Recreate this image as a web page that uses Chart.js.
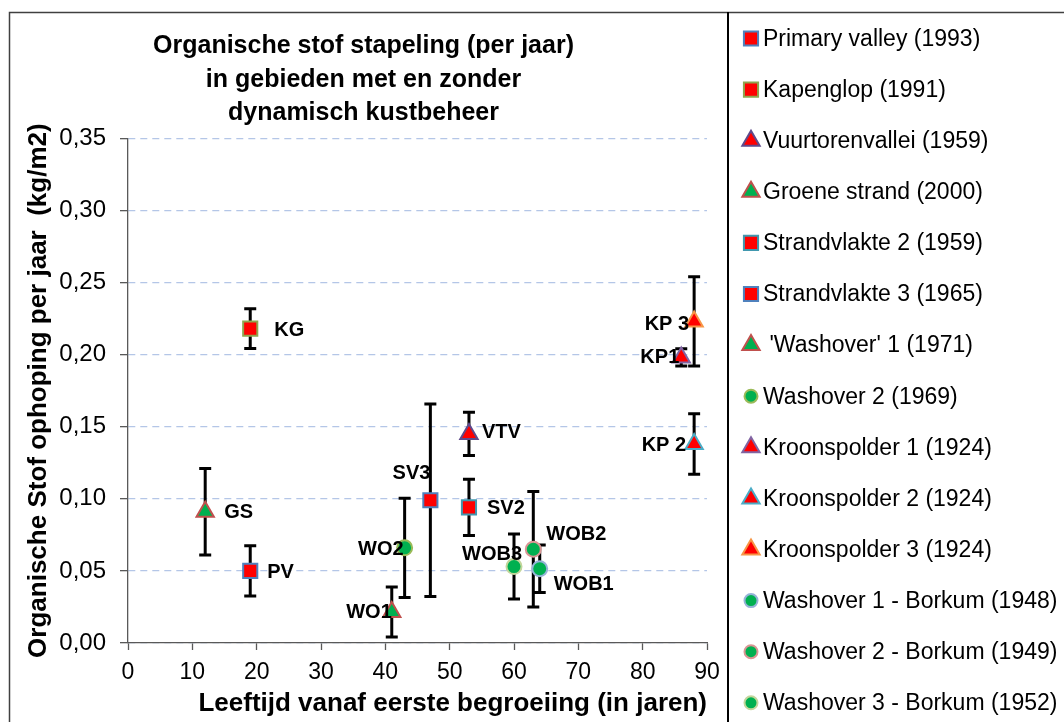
<!DOCTYPE html>
<html><head><meta charset="UTF-8">
<title>Organische stof stapeling</title>
<style>
* { margin: 0; padding: 0; box-sizing: border-box; }
body { background: #fff; width: 1064px; height: 722px; overflow: hidden; }
canvas { display: block; }
</style>
<script src="https://cdn.jsdelivr.net/npm/chart.js"></script>
</head>
<body>
<canvas id="stofChart" width="1064" height="722"></canvas>
<script>
// data
const seriesNames = [
  'Primary valley (1993)', 'Kapenglop (1991)', 'Vuurtorenvallei (1959)', 'Groene strand (2000)',
  'Strandvlakte 2 (1959)', 'Strandvlakte 3 (1965)', " 'Washover' 1 (1971)", 'Washover 2 (1969)',
  'Kroonspolder 1 (1924)', 'Kroonspolder 2 (1924)', 'Kroonspolder 3 (1924)',
  'Washover 1 - Borkum (1948)', 'Washover 2 - Borkum (1949)', 'Washover 3 - Borkum (1952)'
];
const pointLabels = ['PV', 'KG', 'VTV', 'GS', 'SV2', 'SV3', 'WO1', 'WO2', 'KP1', 'KP 2', 'KP 3', 'WOB1', 'WOB2', 'WOB3'];
const ages       = [19, 19, 53, 12, 53, 47, 41, 43, 86, 88, 88, 64, 63, 60];
const stofValues = [0.050, 0.218, 0.145, 0.091, 0.094, 0.099, 0.0215, 0.066, 0.198, 0.138, 0.223, 0.0515, 0.065, 0.053];
const stofErrors = [0.0174, 0.0138, 0.015, 0.030, 0.0195, 0.0667, 0.0174, 0.0344, 0.006, 0.021, 0.031, 0.0164, 0.040, 0.0225];
const xTicks = [0, 10, 20, 30, 40, 50, 60, 70, 80, 90];
const yTicks = [0, 0.05, 0.10, 0.15, 0.20, 0.25, 0.30, 0.35];

const FONT = '"Liberation Sans", Arial, sans-serif';
const RED = '#ff0000', GREEN = '#00b050';

// marker look per series
const markerStyles = [
  { shape: 'rect',     fill: RED,   edge: '#4f81bd' },
  { shape: 'rect',     fill: RED,   edge: '#8ea64e' },
  { shape: 'triangle', fill: RED,   edge: '#5f4a8b' },
  { shape: 'triangle', fill: GREEN, edge: '#c0504d' },
  { shape: 'rect',     fill: RED,   edge: '#4198af' },
  { shape: 'rect',     fill: RED,   edge: '#4f81bd' },
  { shape: 'triangle', fill: GREEN, edge: '#c0504d' },
  { shape: 'circle',   fill: GREEN, edge: '#9bbb59' },
  { shape: 'triangle', fill: RED,   edge: '#8064a2' },
  { shape: 'triangle', fill: RED,   edge: '#4bacc6' },
  { shape: 'triangle', fill: RED,   edge: '#f79646' },
  { shape: 'circle',   fill: GREEN, edge: '#95b3d7' },
  { shape: 'circle',   fill: GREEN, edge: '#d99694' },
  { shape: 'circle',   fill: GREEN, edge: '#c3d69b' }
];
const markerRadius = { rect: 10, triangle: 10, circle: 7.5 };

// where each point label sits relative to its point
const labelPlacement = [
  { dx: 17, dy: 2, align: 'left' },
  { dx: 24, dy: 2, align: 'left' },
  { dx: 13, dy: -1, align: 'left' },
  { dx: 19, dy: 1, align: 'left' },
  { dx: 18, dy: 1, align: 'left' },
  { dx: 0, dy: -27, align: 'right' },
  { dx: 0, dy: 0, align: 'right' },
  { dx: -1, dy: 2, align: 'right' },
  { dx: -2, dy: 0, align: 'right' },
  { dx: -8, dy: 2, align: 'right' },
  { dx: -5, dy: 3, align: 'right' },
  { dx: 14, dy: 16, align: 'left' },
  { dx: 13, dy: -15, align: 'left' },
  { dx: 8, dy: -12, align: 'right' }
];

function drawMarker(ctx, shape, x, y, r, fill, edge) {
  ctx.beginPath();
  if (shape === 'circle') {
    ctx.arc(x, y, r, 0, Math.PI * 2);
  } else if (shape === 'rect') {
    const s = Math.SQRT1_2 * r;
    ctx.rect(x - s, y - s, 2 * s, 2 * s);
  } else {
    ctx.moveTo(x, y - r);
    ctx.lineTo(x + r * 0.866, y + r * 0.5);
    ctx.lineTo(x - r * 0.866, y + r * 0.5);
    ctx.closePath();
  }
  ctx.fillStyle = fill;
  ctx.fill();
  ctx.lineWidth = 2;
  ctx.strokeStyle = edge;
  ctx.stroke();
}

const errorBars = {
  id: 'errorBars',
  beforeDatasetsDraw(chart) {
    const { ctx, scales: { x, y } } = chart;
    ctx.save();
    ctx.strokeStyle = '#000';
    ctx.lineWidth = 3;
    ages.forEach((age, i) => {
      const px = x.getPixelForValue(age);
      const top = y.getPixelForValue(stofValues[i] + stofErrors[i]);
      const bot = y.getPixelForValue(stofValues[i] - stofErrors[i]);
      ctx.beginPath();
      ctx.moveTo(px, top); ctx.lineTo(px, bot);
      ctx.moveTo(px - 6, top); ctx.lineTo(px + 6, top);
      ctx.moveTo(px - 6, bot); ctx.lineTo(px + 6, bot);
      ctx.stroke();
    });
    ctx.restore();
  }
};

const pointText = {
  id: 'pointText',
  afterDatasetsDraw(chart) {
    const { ctx, scales: { x, y } } = chart;
    ctx.save();
    ctx.font = 'bold 20px ' + FONT;
    ctx.fillStyle = '#000';
    ctx.textBaseline = 'middle';
    pointLabels.forEach((txt, i) => {
      const p = labelPlacement[i];
      ctx.textAlign = p.align;
      ctx.fillText(txt, x.getPixelForValue(ages[i]) + p.dx, y.getPixelForValue(stofValues[i]) + p.dy);
    });
    ctx.restore();
  }
};

const sideLegend = {
  id: 'sideLegend',
  afterDraw(chart) {
    const ctx = chart.ctx;
    ctx.save();
    ctx.strokeStyle = '#404040';
    ctx.lineWidth = 1.5;
    ctx.strokeRect(9.5, 12.5, 1070, 720);
    ctx.strokeStyle = '#000';
    ctx.lineWidth = 2;
    ctx.beginPath();
    ctx.moveTo(728, 12); ctx.lineTo(728, 722);
    ctx.stroke();
    ctx.font = '23px ' + FONT;
    ctx.textBaseline = 'middle';
    ctx.textAlign = 'left';
    seriesNames.forEach((name, i) => {
      const cy = 38.5 + i * 51.1;
      const m = markerStyles[i];
      drawMarker(ctx, m.shape, 751, cy, m.shape === 'circle' ? 6.5 : 10, m.fill, m.edge);
      ctx.fillStyle = '#000';
      ctx.fillText(name, 763, cy + 1);
    });
    ctx.restore();
  }
};

new Chart(document.getElementById('stofChart'), {
  type: 'scatter',
  data: {
    datasets: seriesNames.map((name, i) => ({
      label: name,
      data: [{ x: ages[i], y: stofValues[i] }],
      pointStyle: markerStyles[i].shape,
      backgroundColor: markerStyles[i].fill,
      borderColor: markerStyles[i].edge,
      borderWidth: 2,
      pointRadius: markerRadius[markerStyles[i].shape],
      pointHoverRadius: markerRadius[markerStyles[i].shape]
    }))
  },
  options: {
    responsive: false,
    animation: false,
    events: [],
    layout: { padding: { left: 20, right: 357, top: 12, bottom: 0 } },
    plugins: {
      legend: { display: false },
      tooltip: { enabled: false },
      title: {
        display: true,
        text: ['Organische stof stapeling (per jaar)', 'in gebieden met en zonder', 'dynamisch kustbeheer'],
        color: '#000',
        font: { family: FONT, size: 25, weight: 'bold', lineHeight: 1.35 },
        padding: { top: 17, bottom: 8 }
      }
    },
    scales: {
      x: {
        type: 'linear',
        min: xTicks[0],
        max: xTicks[xTicks.length - 1],
        afterFit(scale) { scale.height = 79; },
        afterBuildTicks(scale) { scale.ticks = xTicks.map(v => ({ value: v })); },
        ticks: { color: '#000', padding: 9, font: { family: FONT, size: 23 } },
        grid: { drawOnChartArea: false, tickLength: 7, tickColor: '#595959', tickWidth: 1.3 },
        border: { display: true, color: '#595959', width: 1.3 },
        title: {
          display: true,
          text: 'Leeftijd vanaf eerste begroeiing (in jaren)',
          align: 'end',
          color: '#000',
          font: { family: FONT, size: 26, weight: 'bold' },
          padding: { top: 0, bottom: 3 }
        }
      },
      y: {
        type: 'linear',
        min: yTicks[0],
        max: yTicks[yTicks.length - 1],
        afterFit(scale) { scale.width = 108; },
        afterBuildTicks(scale) { scale.ticks = yTicks.map(v => ({ value: v })); },
        ticks: {
          color: '#000',
          padding: 14,
          font: { family: FONT, size: 24 },
          callback: v => v.toFixed(2).replace('.', ',')
        },
        grid: { color: '#b4c6e7', lineWidth: 1.3, tickLength: 8, tickColor: '#595959', tickWidth: 1.3, tickBorderDash: [] },
        border: { display: true, color: '#595959', width: 1.3, dash: [7, 5] },
        title: {
          display: true,
          text: 'Organische Stof ophoping per jaar  (kg/m2)',
          color: '#000',
          font: { family: FONT, size: 26, weight: 'bold' },
          padding: { top: 3, bottom: 0 }
        }
      }
    }
  },
  plugins: [errorBars, pointText, sideLegend]
});
</script>
</body></html>
